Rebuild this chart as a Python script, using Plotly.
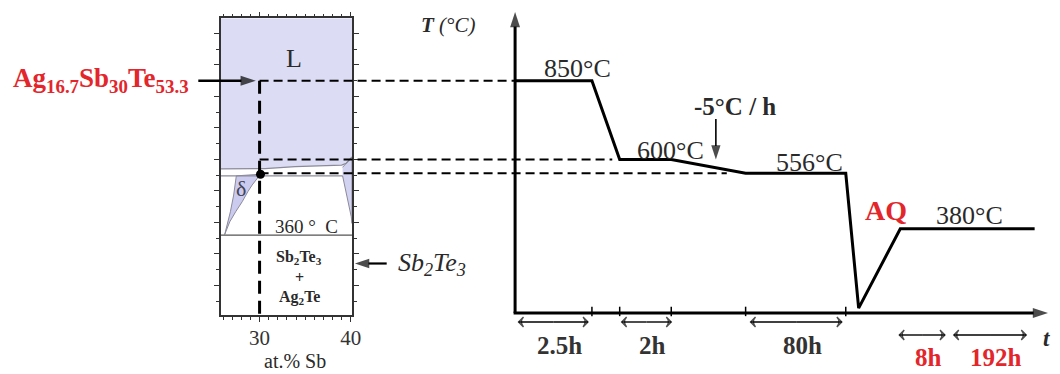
import plotly.graph_objects as go

# ---------------- data ----------------
# Phase diagram section (at.% Sb vs temperature in °C)
liquidus_sb = [25.75, 30.6, 33.9, 39.0, 39.5, 40.13]
liquidus_T = [570, 571, 577, 582, 588, 608]
solidus_sb = [25.75, 39.1]
solidus_T = [548, 548]
eutectoid_sb = [25.75, 40.13]
eutectoid_T = [360, 360]
delta_sb = [26.18, 26.55, 26.8, 27.16, 27.3, 27.45, 30.1, 29.73, 29.19, 28.72, 28.1, 27.38, 26.73, 26.18]
delta_T = [362, 402, 434, 487, 519, 548, 553, 540, 519, 498, 466, 434, 402, 362]
ss_sb = [39.1, 39.45, 39.8, 40.05, 40.13, 40.13, 39.5, 39.1]
ss_T = [548, 503, 450, 418, 397, 608, 588, 575]
alloy_sb = 30.0
alloy_T = 850
alloy_point = (30.1, 553)

# Heat-treatment schedule (schematic time axis, temperature in °C)
profile_t = [0, 77.5, 105.5, 157.5, 232.5, 333.5, 346.5, 388.5, 524]
profile_T = [850, 850, 600, 600, 556, 556, 128, 380, 380]
tick_t = [77.5, 105.5, 157.5, 232.5, 333.5]
step_temps = [850, 600, 556]
dash_end_t = [0, 98, 213.5]
duration_labels = ["2.5h", "2h", "80h", "8h", "192h"]
duration_t0 = [3.5, 107.5, 237.5, 387.5, 442.5]
duration_t1 = [73.5, 157.5, 329.5, 433.5, 515.5]
duration_red = [False, False, False, True, True]

# ---------------- geometry helpers (layout only) ----------------
W, H = 1060, 374
PX_T0 = 519.5          # pixel x of the temperature axis
PY_850 = 80.7          # pixel y of 850 °C
PX_PER_C = 0.315       # pixels per °C


def tx(px):
    return px - PX_T0


def ty(py):
    return 850 - (py - PY_850) / PX_PER_C


T_BASE = ty(313)
RED = "#e3262b"
DARK = "#2a2a2a"
SERIF = "Liberation Serif"

box_l, box_r, box_t, box_b = 222.7, 355.0, 18.3, 315.0
comp_range = [25.75, 40.13]
T_range_box = [ty(box_b), ty(box_t)]

fig = go.Figure()

# ---- phase diagram (x / y) ----
fig.add_trace(go.Scatter(
    x=liquidus_sb + [comp_range[1], comp_range[0]],
    y=liquidus_T + [T_range_box[1], T_range_box[1]],
    fill="toself", fillcolor="#dcdcf4", line=dict(width=0), mode="lines",
    xaxis="x", yaxis="y", hoverinfo="skip"))
fig.add_trace(go.Scatter(x=delta_sb, y=delta_T, fill="toself", fillcolor="#cbcbef",
                         line=dict(color="#8a8a9a", width=1), mode="lines", xaxis="x", yaxis="y"))
fig.add_trace(go.Scatter(x=ss_sb, y=ss_T, fill="toself", fillcolor="#d2d2f1",
                         line=dict(color="#8a8a9a", width=1), mode="lines", xaxis="x", yaxis="y"))
fig.add_trace(go.Scatter(x=liquidus_sb, y=liquidus_T, mode="lines",
                         line=dict(color="#8a8a9a", width=1.2), xaxis="x", yaxis="y"))
fig.add_trace(go.Scatter(x=solidus_sb, y=solidus_T, mode="lines",
                         line=dict(color="#8a8a9a", width=1.2), xaxis="x", yaxis="y"))
fig.add_trace(go.Scatter(x=eutectoid_sb, y=eutectoid_T, mode="lines",
                         line=dict(color="#555555", width=1.2), xaxis="x", yaxis="y"))
fig.add_trace(go.Scatter(x=[alloy_sb, alloy_sb], y=[alloy_T, T_range_box[0]], mode="lines",
                         line=dict(color="black", width=3, dash="13px,7px"), xaxis="x", yaxis="y"))
fig.add_trace(go.Scatter(x=[alloy_point[0]], y=[alloy_point[1]], mode="markers",
                         marker=dict(color="black", size=9), xaxis="x", yaxis="y"))

# ---- full-figure schematic (x2 / y2) ----
frac = (alloy_sb - comp_range[0]) / (comp_range[1] - comp_range[0])
alloy_x_full = tx(box_l + frac * (box_r - box_l))
for T, te in zip(step_temps, dash_end_t):
    fig.add_trace(go.Scatter(x=[alloy_x_full, te], y=[T, T], mode="lines",
                             line=dict(color="black", width=2, dash="9px,5px"),
                             xaxis="x2", yaxis="y2"))
fig.add_trace(go.Scatter(x=profile_t, y=profile_T, mode="lines",
                         line=dict(color="black", width=3), xaxis="x2", yaxis="y2"))
tx_ticks, ty_ticks = [], []
for t in tick_t:
    tx_ticks += [t, t, None]
    ty_ticks += [T_BASE + 20, T_BASE - 10, None]
fig.add_trace(go.Scatter(x=tx_ticks, y=ty_ticks, mode="lines",
                         line=dict(color="black", width=1.5), xaxis="x2", yaxis="y2"))


def arrow_trace(x0, y0, x1, y1, width=2.0, head="arrow", size=15, both=False):
    """Line from (x0,y0) to (x1,y1) with an arrow-head marker at the end(s)."""
    if both:
        xm, ym = (x0 + x1) / 2, (y0 + y1) / 2
        xs, ys = [xm, x0, None, xm, x1], [ym, y0, None, ym, y1]
        sizes = [0, size, 0, 0, size]
    else:
        xs, ys = [x0, x1], [y0, y1]
        sizes = [0, size]
    fig.add_trace(go.Scatter(
        x=xs, y=ys, mode="lines+markers", xaxis="x2", yaxis="y2", hoverinfo="skip",
        line=dict(color="black", width=width),
        marker=dict(symbol=head, size=sizes, angleref="previous", color="black",
                    line=dict(color="black", width=width if "open" in head else 0))))


# axes of the schematic
arrow_trace(0, T_BASE, 0, ty(12), width=3, size=16)
arrow_trace(-1.5, T_BASE, tx(1057), T_BASE, width=3, size=16)
# cooling-rate arrow
arrow_trace(tx(722), ty(119), tx(722), 600, width=1.6, size=15)
# composition arrows
arrow_trace(tx(200), alloy_T, tx(258), alloy_T, width=2.4, size=16)
arrow_trace(tx(390), ty(263.5), tx(358), ty(263.5), width=2.2, size=15)
# duration double arrows
for t0, t1, red in zip(duration_t0, duration_t1, duration_red):
    yrow = ty(335) if red else ty(322)
    arrow_trace(t0, yrow, t1, yrow, width=1.4, head="arrow-wide-open", size=7, both=True)

ann = []


def text(x, y, s, size, color=DARK, xref="x2", yref="y2", xanchor="center",
         yanchor="middle", **kw):
    d = dict(x=x, y=y, text=s, xref=xref, yref=yref, showarrow=False,
             xanchor=xanchor, yanchor=yanchor, font=dict(family=SERIF, size=size, color=color))
    d.update(kw)
    ann.append(d)


text(tx(452), ty(25), "<i><b>T</b> (°C)</i>", 21)
text(tx(1055), ty(338), "<b><i>t</i></b>", 23)

# temperature labels
text(tx(582), ty(68), "850°C", 26)
text(tx(676), ty(150), "600°C", 26)
text(tx(816), ty(162), "556°C", 26)
text(tx(978), profile_T[-1], "380°C", 26, yshift=13)
text(tx(894), profile_T[-1], "<b>AQ</b>", 28, color=RED, yshift=18)
text(tx(741), ty(106), "<b>-5°C / h</b>", 25)

# durations
for lab, t0, t1, red in zip(duration_labels, duration_t0, duration_t1, duration_red):
    ylab = ty(357) if red else ty(345)
    text((t0 + t1) / 2 + 6, ylab, "<b>%s</b>" % lab, 25, color=RED if red else "#333333")

# phase-diagram labels
text(tx(193), ty(80), "<b>Ag<sub>16.7</sub>Sb<sub>30</sub>Te<sub>53.3</sub></b>", 27,
     color=RED, xanchor="right")
text(tx(399), ty(264), "<i>Sb<sub>2</sub>Te<sub>3</sub></i>", 26, xanchor="left")
text(tx(298), ty(374), "at.% Sb", 20, yanchor="bottom")
text(33.8, 922, "L", 26, xref="x", yref="y")
text(27.96, 509, "δ", 22, xref="x", yref="y", color="#444455")
text(35.13, 388, "360 °  C", 19, xref="x", yref="y")
text(34.37, ty(257), "<b>Sb<sub>2</sub>Te<sub>3</sub></b>", 16, xref="x", yref="y")
text(34.37, ty(277), "<b>+</b>", 16, xref="x", yref="y")
text(34.37, ty(297), "<b>Ag<sub>2</sub>Te</b>", 16, xref="x", yref="y")

box_axis = dict(showline=True, linecolor="#333333", linewidth=1.5, mirror="ticks",
                ticks="outside", ticklen=5, tickcolor="#333333", showgrid=False,
                zeroline=False, fixedrange=True)

fig.update_layout(
    width=W, height=H, margin=dict(l=0, r=0, t=0, b=0),
    paper_bgcolor="white", plot_bgcolor="rgba(0,0,0,0)", showlegend=False,
    font=dict(family=SERIF, color=DARK),
    xaxis=dict(domain=[box_l / W, box_r / W], range=comp_range, anchor="y",
               tick0=30, dtick=10, tickfont=dict(family=SERIF, size=21, color="#333333"),
               ticklabelstandoff=-2,
               minor=dict(dtick=1, ticklen=3, ticks="outside", tickcolor="#333333"),
               **box_axis),
    yaxis=dict(domain=[1 - box_b / H, 1 - box_t / H], range=T_range_box, anchor="x",
               tick0=0, dtick=100, showticklabels=False,
               minor=dict(dtick=50, ticklen=3, ticks="outside", tickcolor="#333333"),
               **box_axis),
    xaxis2=dict(domain=[0, 1], range=[tx(0), tx(W)], anchor="y2", visible=False, fixedrange=True),
    yaxis2=dict(domain=[0, 1], range=[ty(H), ty(0)], anchor="x2", visible=False, fixedrange=True),
    annotations=ann,
)

fig.write_html("out.html")
